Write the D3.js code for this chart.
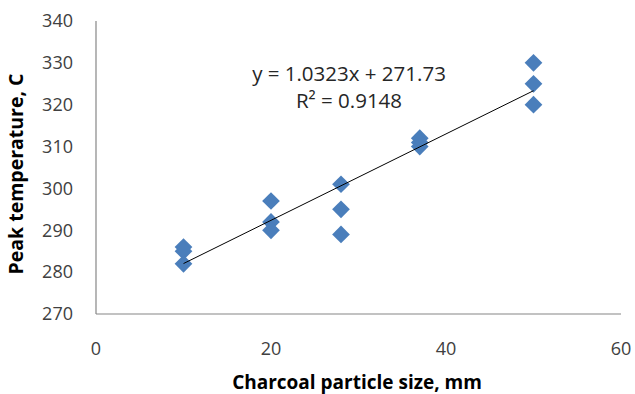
<!DOCTYPE html>
<html>
<head>
<meta charset="utf-8">
<script src="https://cdn.jsdelivr.net/npm/d3@7"></script>
<style>
  body { margin: 0; background: #fff; }
  svg { display: block; font-family: "Open Sans", "Liberation Sans", sans-serif; }
</style>
</head>
<body>
<div id="chart"></div>
<script>
// Data
const particleSize = [10, 10, 10, 20, 20, 20, 28, 28, 28, 37, 37, 37, 50, 50, 50];
const peakTemp = [286, 285, 282, 297, 292, 290, 301, 295, 289, 312, 311, 310, 330, 325, 320];
const xTicks = [0, 20, 40, 60];
const yTicks = [270, 280, 290, 300, 310, 320, 330, 340];
const fitSlope = 1.0323, fitIntercept = 271.73, fitR2 = 0.9148;

const width = 635, height = 394;
const margin = {top: 21, right: 14, bottom: 80, left: 96};

const x = d3.scaleLinear().domain([0, 60]).range([margin.left, width - margin.right]);
const y = d3.scaleLinear().domain([270, 340]).range([height - margin.bottom, margin.top]);

const svg = d3.select("#chart").append("svg")
    .attr("width", width)
    .attr("height", height);

// Axis lines (no tick marks in the original)
svg.append("line")
    .attr("x1", x(0)).attr("x2", x(60))
    .attr("y1", y(270)).attr("y2", y(270))
    .attr("stroke", "#868686").attr("stroke-width", 1.2);
svg.append("line")
    .attr("x1", x(0)).attr("x2", x(0))
    .attr("y1", y(270)).attr("y2", y(340))
    .attr("stroke", "#868686").attr("stroke-width", 1.2);

// Tick labels
svg.selectAll("text.ytick")
  .data(yTicks)
  .enter().append("text")
    .attr("class", "ytick")
    .attr("x", x(0) - 23)
    .attr("y", d => y(d))
    .attr("dy", "0.35em")
    .attr("text-anchor", "end")
    .attr("fill", "#404040")
    .style("font-size", "18px")
    .text(d => d);

svg.selectAll("text.xtick")
  .data(xTicks)
  .enter().append("text")
    .attr("class", "xtick")
    .attr("x", d => x(d))
    .attr("y", y(270) + 41)
    .attr("text-anchor", "middle")
    .attr("fill", "#404040")
    .style("font-size", "18px")
    .text(d => d);

// Axis titles
svg.append("text")
    .attr("x", 357)
    .attr("y", 389)
    .attr("text-anchor", "middle")
    .attr("fill", "#000")
    .style("font-size", "19px")
    .style("font-weight", "bold")
    .text("Charcoal particle size, mm");

svg.append("text")
    .attr("transform", "translate(23,174) rotate(-90)")
    .attr("text-anchor", "middle")
    .attr("fill", "#000")
    .style("font-size", "19.5px")
    .style("font-weight", "bold")
    .text("Peak temperature, C");

// Points (diamonds)
const pts = particleSize.map((d, i) => ({x: d, y: peakTemp[i]}));
const diamond = d3.symbol().type(d3.symbolDiamond2).size(200);
svg.selectAll("path.pt")
  .data(pts)
  .enter().append("path")
    .attr("class", "pt")
    .attr("d", diamond)
    .attr("transform", d => `translate(${x(d.x)},${y(d.y)})`)
    .attr("fill", "#4A7EBB");

// Trendline over the data range
const xMin = d3.min(particleSize), xMax = d3.max(particleSize);
svg.append("line")
    .attr("x1", x(xMin)).attr("y1", y(fitIntercept + fitSlope * xMin))
    .attr("x2", x(xMax)).attr("y2", y(fitIntercept + fitSlope * xMax))
    .attr("stroke", "#000").attr("stroke-width", 1);

// Equation label
const eq = svg.append("text")
    .attr("text-anchor", "middle")
    .attr("fill", "#262626")
    .style("font-size", "20.5px");
eq.append("tspan")
    .attr("x", 349).attr("y", 81)
    .text(`y = ${fitSlope}x + ${fitIntercept}`);
eq.append("tspan")
    .attr("x", 349).attr("y", 108)
    .text(`R² = ${fitR2}`);
</script>
</body>
</html>
